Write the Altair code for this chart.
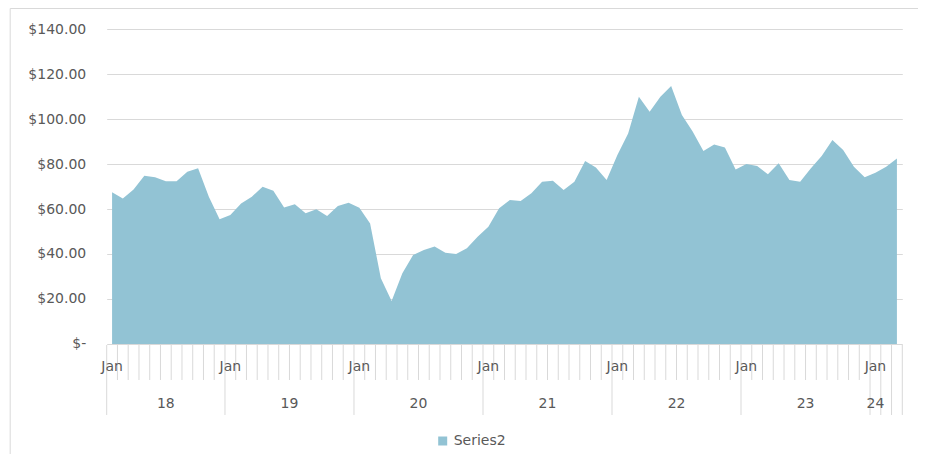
import altair as alt
import pandas as pd

# ---- data ----
values = [
    67.4, 64.7, 68.7, 74.8, 74.1, 72.3, 72.3, 76.6, 78.1, 65.5, 55.4,          # 18 (11 cats)
    57.3, 62.5, 65.5, 69.9, 68.1, 60.7, 62.1, 58.1, 59.9, 56.9, 61.3, 62.8,    # 19
    60.6, 53.6, 29.2, 19.1, 31.4, 39.6, 41.8, 43.3, 40.6, 40.0, 42.5, 47.7,    # 20
    52.1, 60.3, 64.0, 63.6, 67.0, 72.1, 72.6, 68.4, 72.1, 81.3, 78.5, 72.9,    # 21
    84.0, 93.6, 109.9, 103.2, 109.9, 114.7, 101.8, 94.4, 85.8, 88.7, 87.3, 77.6,  # 22
    80.0, 79.1, 75.4, 80.3, 72.9, 72.1, 78.1, 83.6, 90.7, 86.2, 78.8, 74.1,    # 23
    76.1, 78.8, 82.5,                                                          # 24
]
years = ["18", "19", "20", "21", "22", "23", "24"]
group_sizes = [11, 12, 12, 12, 12, 12, 3]
month_label = "Jan"
series_name = "Series2"
y_ticks = [0, 20, 40, 60, 80, 100, 120, 140]

# ---- tables built from the lists ----
n = len(values)
df = pd.DataFrame({"i": list(range(n)), "v": values, "s": [series_name] * n})

starts = []
acc = 0
for g in group_sizes:
    starts.append(acc)
    acc += g
jan_df = pd.DataFrame({"i": starts, "t": [month_label] * len(starts)})

year_pos = []
for k, (st, g) in enumerate(zip(starts, group_sizes)):
    if k == len(group_sizes) - 1:
        year_pos.append(st)  # Excel puts the short last group's label at its first category
    else:
        year_pos.append(st + (g - 1) / 2)
year_df = pd.DataFrame({"i": year_pos, "t": years})

group_edges = set(s - 0.5 for s in starts)
last_start = starts[-1]
long_b = [b - 0.5 for b in range(n + 1) if (b - 0.5) in group_edges or b >= last_start]
short_b = [b - 0.5 for b in range(n + 1) if (b - 0.5) not in long_b]
long_df = pd.DataFrame({"b": long_b})
short_df = pd.DataFrame({"b": short_b})

FONT = "DejaVu Sans"
TXT = "#595959"
GRID = "#d9d9d9"
FILL = "#92c3d4"

xscale = alt.Scale(domain=[-0.5, n - 0.5], nice=False, zero=False)

area = alt.Chart(df).mark_area(color=FILL, opacity=1).encode(
    x=alt.X("i:Q", scale=xscale,
            axis=alt.Axis(labels=False, ticks=False, grid=False, title=None,
                          domain=True, domainColor=GRID, domainWidth=1)),
    y=alt.Y("v:Q", scale=alt.Scale(domain=[0, 140], nice=False),
            axis=alt.Axis(values=y_ticks, title=None, domain=False, ticks=False,
                          grid=True, gridColor=GRID, gridWidth=1,
                          labelFont=FONT, labelFontSize=14, labelColor=TXT,
                          labelPadding=21,
                          labelExpr="datum.value == 0 ? '$-\u00a0\u00a0\u00a0' : '$' + format(datum.value, '.2f')")),
    color=alt.Color("s:N", scale=alt.Scale(domain=[series_name], range=[FILL]),
                    legend=alt.Legend(orient="none", legendX=329, legendY=405, title=None,
                                      symbolType="square", symbolSize=81, symbolStrokeWidth=0,
                                      labelFont=FONT, labelFontSize=14, labelColor=TXT,
                                      padding=0, labelOffset=4)),
)

short_ticks = alt.Chart(short_df).mark_rule(color=GRID, strokeWidth=1).encode(
    x=alt.X("b:Q", scale=xscale, axis=None),
    y=alt.value(316), y2=alt.value(351),
)
long_ticks = alt.Chart(long_df).mark_rule(color=GRID, strokeWidth=1).encode(
    x=alt.X("b:Q", scale=xscale, axis=None),
    y=alt.value(316), y2=alt.value(386),
)
jan_text = alt.Chart(jan_df).mark_text(font=FONT, fontSize=14, color=TXT,
                                       align="center", baseline="middle").encode(
    x=alt.X("i:Q", scale=xscale, axis=None),
    y=alt.value(338),
    text="t:N",
)
year_text = alt.Chart(year_df).mark_text(font=FONT, fontSize=14, color=TXT,
                                         align="center", baseline="middle").encode(
    x=alt.X("i:Q", scale=xscale, axis=None),
    y=alt.value(375),
    text="t:N",
)
border_df = pd.DataFrame({"k": [0]})
border_left = alt.Chart(border_df).mark_rule(color=GRID, strokeWidth=1).encode(
    x=alt.value(-96.5), y=alt.value(-20.5), y2=alt.value(425))
border_top = alt.Chart(border_df).mark_rule(color=GRID, strokeWidth=1).encode(
    x=alt.value(-96.5), x2=alt.value(830), y=alt.value(-20.5))

chart = alt.layer(
    area, short_ticks, long_ticks, jan_text, year_text, border_left, border_top
).properties(
    width=795.6, height=315,
    autosize=alt.AutoSizeParams(type="none"),
    padding={"left": 98.7, "top": 21, "right": 16, "bottom": 110},
).configure_view(stroke=None)

chart.save("out.html", embed_options={"renderer": "svg", "actions": False})
